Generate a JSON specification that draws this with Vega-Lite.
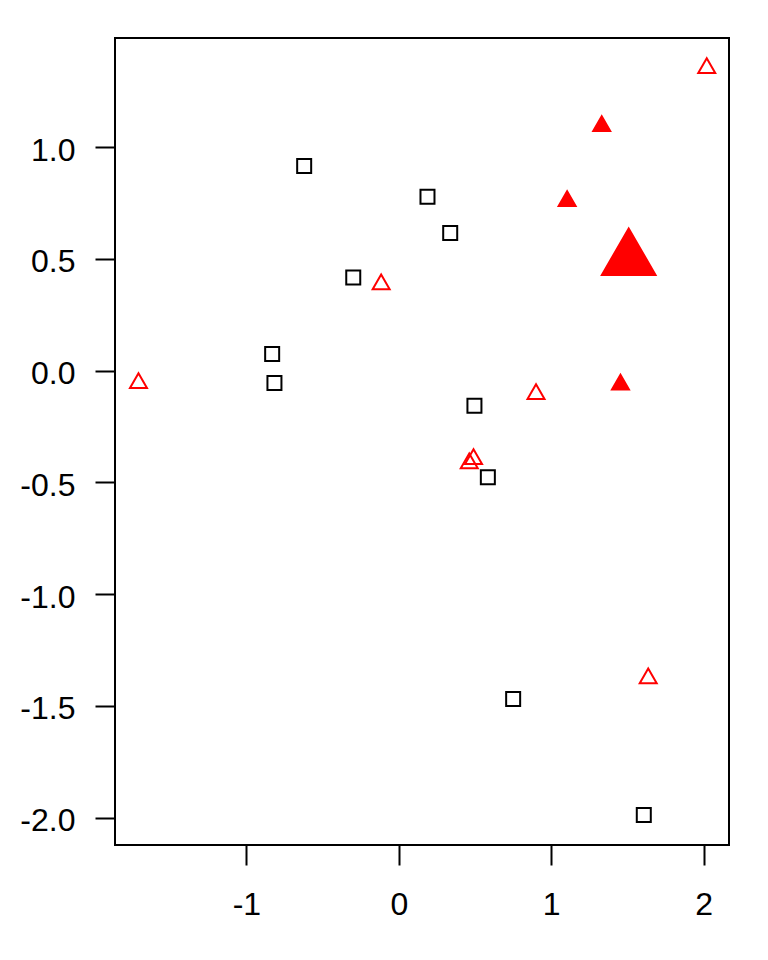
{
  "$schema": "https://vega.github.io/schema/vega-lite/v6.json",
  "width": 614,
  "height": 807,
  "autosize": {"type": "none"},
  "padding": {"left": 115, "top": 38, "right": 39, "bottom": 115},
  "background": "white",
  "config": {
    "view": {"stroke": "black", "strokeWidth": 2},
    "font": "Liberation Sans"
  },
  "data": {
    "values": [
      {"x": -0.621, "y": 0.915, "group": "A"},
      {"x": 0.188, "y": 0.778, "group": "A"},
      {"x": 0.337, "y": 0.616, "group": "A"},
      {"x": -0.299, "y": 0.416, "group": "A"},
      {"x": -0.831, "y": 0.074, "group": "A"},
      {"x": -0.816, "y": -0.056, "group": "A"},
      {"x": 0.496, "y": -0.157, "group": "A"},
      {"x": 0.584, "y": -0.478, "group": "A"},
      {"x": 0.75, "y": -1.47, "group": "A"},
      {"x": 1.607, "y": -1.989, "group": "A"},
      {"x": 2.02, "y": 1.353, "group": "B"},
      {"x": -0.116, "y": 0.386, "group": "B"},
      {"x": -1.708, "y": -0.056, "group": "B"},
      {"x": 0.9, "y": -0.105, "group": "B"},
      {"x": 0.49, "y": -0.396, "group": "B"},
      {"x": 0.462, "y": -0.415, "group": "B"},
      {"x": 1.636, "y": -1.377, "group": "B"},
      {"x": 1.331, "y": 1.094, "group": "C"},
      {"x": 1.104, "y": 0.758, "group": "C"},
      {"x": 1.454, "y": -0.063, "group": "C"},
      {"x": 1.508, "y": 0.497, "group": "D"}
    ]
  },
  "mark": {"type": "point", "filled": true, "strokeWidth": 2, "opacity": 1},
  "encoding": {
    "x": {
      "field": "x", "type": "quantitative",
      "scale": {"domain": [-1.862, 2.166], "nice": false, "zero": false},
      "axis": {
        "title": null, "grid": false, "domain": false,
        "values": [-1, 0, 1, 2], "format": "d",
        "labelExpr": "replace(datum.label, '\u2212', '-')",
        "tickSize": 20, "tickWidth": 2, "tickColor": "black",
        "labelFontSize": 32, "labelColor": "black", "labelPadding": 24,
        "labelFont": "Liberation Sans"
      }
    },
    "y": {
      "field": "y", "type": "quantitative",
      "scale": {"domain": [-2.123, 1.488], "nice": false, "zero": false},
      "axis": {
        "title": null, "grid": false, "domain": false,
        "values": [-2, -1.5, -1, -0.5, 0, 0.5, 1], "format": ".1f",
        "labelExpr": "replace(datum.label, '\u2212', '-')",
        "tickSize": 20, "tickWidth": 2, "tickColor": "black",
        "labelFontSize": 32, "labelColor": "black", "labelPadding": 20,
        "labelOffset": 3,
        "labelFont": "Liberation Sans"
      }
    },
    "shape": {
      "field": "group", "type": "nominal", "legend": null,
      "scale": {
        "domain": ["A", "B", "C", "D"],
        "range": ["square", "M0,-1L0.866,0.5L-0.866,0.5Z", "M0,-1L0.866,0.5L-0.866,0.5Z", "M0,-1L0.866,0.5L-0.866,0.5Z"]
      }
    },
    "stroke": {
      "field": "group", "type": "nominal", "legend": null,
      "scale": {"domain": ["A", "B", "C", "D"], "range": ["black", "red", "red", "red"]}
    },
    "fill": {
      "field": "group", "type": "nominal", "legend": null,
      "scale": {"domain": ["A", "B", "C", "D"], "range": ["transparent", "transparent", "red", "red"]}
    },
    "size": {
      "field": "group", "type": "nominal", "legend": null,
      "scale": {"type": "ordinal", "domain": ["A", "B", "C", "D"], "range": [196, 384, 384, 3844]}
    }
  }
}
